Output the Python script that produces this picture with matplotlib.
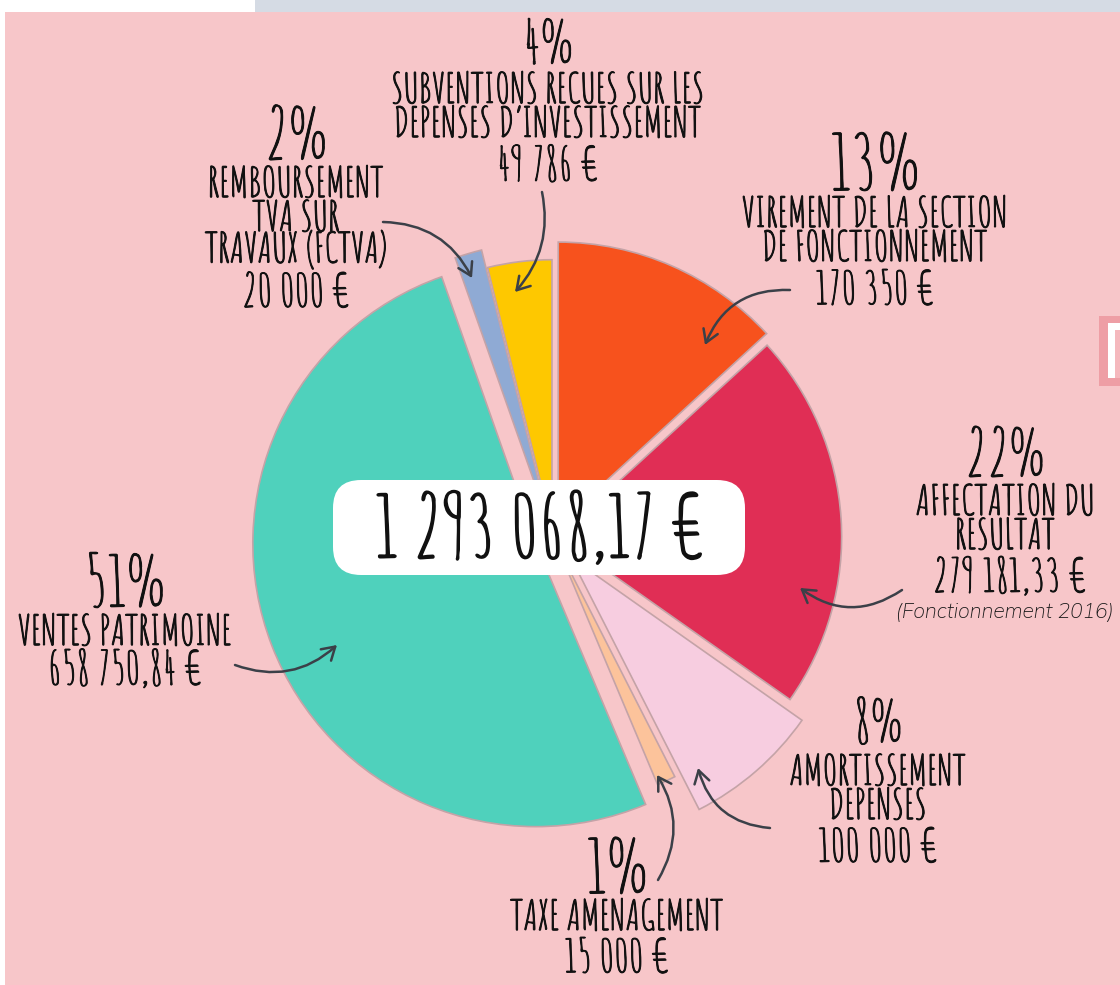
import matplotlib
matplotlib.use("Agg")
import matplotlib.pyplot as plt
import matplotlib.patheffects as pe
from matplotlib.patches import FancyBboxPatch, Rectangle

# budget data (clockwise from 12 o'clock)
labels = ["VIREMENT DE LA SECTION\nDE FONCTIONNEMENT", "AFFECTATION DU\nRESULTAT", "AMORTISSEMENT\nDEPENSES",
          "TAXE AMENAGEMENT", "VENTES PATRIMOINE", "REMBOURSEMENT\nTVA SUR\nTRAVAUX (FCTVA)",
          "SUBVENTIONS RECUES SUR LES\nDEPENSES D’INVESTISSEMENT"]
amounts = [170350, 279181.33, 100000, 15000, 658750.84, 20000, 49786]
amount_txt = ["170 350 €", "279 181,33 €", "100 000 €", "15 000 €", "658 750,84 €", "20 000 €", "49 786 €"]
pct_txt = ["13%", "22%", "8%", "1%", "51%", "2%", "4%"]
total_txt = "1 293 068,17 €"

colors = ["#f7521d", "#e02e55", "#f7cde0", "#fcc39b", "#4fd1bc", "#8faad4", "#fec800"]
explode = [0.046, 0.02, 0.095, 0.03, 0.065, 0.045, 0.03]
rscale = [1.0, 1.0, 1.0, 0.92, 1.0, 1.0, 0.95]
pct_size = [56, 47, 42, 54, 51, 51, 43]

W, H = 1120, 985
BG = "#f7c6c9"
INK = "#111111"
ARROW = "#3b4048"

plt.rcParams["font.family"] = ["Amatic SC", "DejaVu Sans"]
ink_fx = [pe.withStroke(linewidth=0.7, foreground=INK)]

fig = plt.figure(figsize=(W / 100, H / 100), dpi=100)
fig.patch.set_facecolor(BG)
ax = fig.add_axes([0, 0, 1, 1])
ax.set_facecolor(BG)


def Y(p):
    return H - p


R = 283
# matplotlib's explode offset is in data units, so scale by the radius
wedges, _ = ax.pie(amounts, colors=colors, explode=[e * R for e in explode], startangle=90,
                   counterclock=False, center=(553, Y(537)), radius=R,
                   wedgeprops=dict(edgecolor="#c4a3a7", linewidth=1.2))
for w, s in zip(wedges, rscale):
    w.set_radius(R * s)

ax.set_xlim(0, W)
ax.set_ylim(0, H)
ax.set_aspect("auto")
ax.axis("off")

# central total
ax.add_patch(FancyBboxPatch((333, Y(575)), 412, 95, boxstyle="round,pad=0,rounding_size=28",
                            facecolor="white", edgecolor="none", zorder=5))
ax.text(540, Y(527), total_txt, ha="center", va="center", fontsize=62, color=INK, zorder=6,
        path_effects=[pe.withStroke(linewidth=1.2, foreground=INK)])

# label blocks: (centre x, pct y, first line y, amount y)
blocks = {
    0: (875, 163, 212, 287),
    1: (1005, 452, 500, 575),
    2: (878, 720, 770, 845),
    3: (617, 866, 915, 955),
    4: (125, 580, 630, 668),
    5: (296, 133, 182, 290),
    6: (548, 42, 88, 163),
}
LINE = 34
for i, (x, yp, y1, ya) in blocks.items():
    ax.text(x, Y(yp), pct_txt[i], ha="center", va="center", fontsize=pct_size[i], color=INK,
            path_effects=ink_fx)
    for k, line in enumerate(labels[i].split("\n")):
        ax.text(x, Y(y1 + k * LINE), line, ha="center", va="center", fontsize=29.5, color=INK,
                path_effects=ink_fx)
    ax.text(x + (5 if i == 1 else 0), Y(ya), amount_txt[i], ha="center", va="center", fontsize=33,
            color=INK, path_effects=ink_fx)

ax.text(1005, Y(612), "(Fonctionnement 2016)", ha="center", va="center", fontsize=15,
        style="italic", family=["Mulish", "DejaVu Sans"], color="#1a1a1a")

# hand-drawn style arrows (start -> end, curvature)
arrows = [
    ((790, 290), (705, 345), 0.35),
    ((902, 590), (800, 588), -0.35),
    ((770, 828), (698, 768), -0.35),
    ((658, 880), (657, 775), 0.3),
    ((235, 665), (337, 645), 0.3),
    ((383, 222), (472, 278), -0.3),
    ((542, 192), (515, 292), -0.25),
]
for (x0, y0), (x1, y1), rad in arrows:
    ax.annotate("", xy=(x1, Y(y1)), xytext=(x0, Y(y0)),
                arrowprops=dict(arrowstyle="->,head_length=0.9,head_width=0.55", color=ARROW, lw=1.8,
                                connectionstyle=f"arc3,rad={rad}", shrinkA=0, shrinkB=0), zorder=7)

# page frame bits
ax.add_patch(Rectangle((0, Y(12)), 255, 12, facecolor="white", edgecolor="none", zorder=8))
ax.add_patch(Rectangle((255, Y(12)), W - 255, 12, facecolor="#d5dbe4", edgecolor="none", zorder=8))
ax.add_patch(Rectangle((0, 0), 5, H, facecolor="white", edgecolor="none", zorder=8))
ax.add_patch(Rectangle((1099, Y(386)), 21, 70, facecolor="#ee9ea5", edgecolor="none", zorder=8))
ax.add_patch(Rectangle((1108, Y(378)), 12, 55, facecolor="white", edgecolor="none", zorder=9))
ax.add_patch(Rectangle((1115, Y(378)), 5, 48, facecolor="#f5b8bd", edgecolor="none", zorder=9))

fig.savefig("out.png", facecolor=BG)
